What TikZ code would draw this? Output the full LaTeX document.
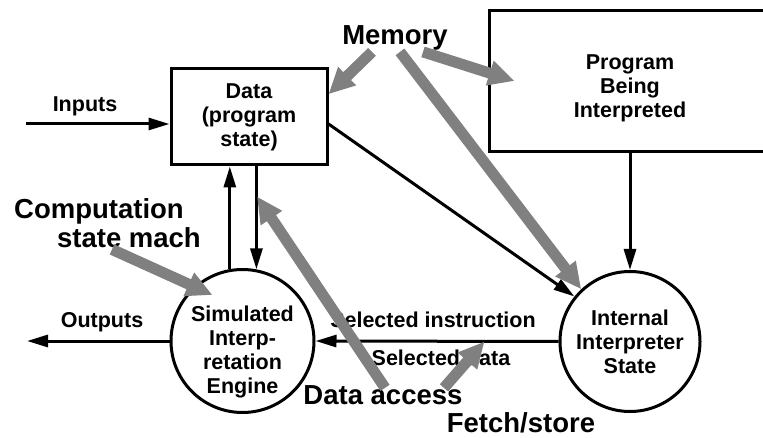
\documentclass[tikz,border=0pt]{standalone}
\usepackage{fontspec}
\setmainfont{Liberation Sans}
\usetikzlibrary{arrows.meta}
\newcommand{\txtsmall}{\fontsize{21.5}{24}\selectfont\bfseries}
\newcommand{\txtbig}{\fontsize{27.5}{30}\selectfont\bfseries}
\begin{document}
\begin{tikzpicture}[x=1pt,y=-1pt,
  procbox/.style={draw, line width=3pt, align=center, inner sep=0pt, font=\txtsmall},
  proccirc/.style={procbox, circle},
  lbl/.style={inner sep=1pt, anchor=base, font=\txtsmall},
  biglbl/.style={inner sep=1pt, anchor=base, font=\txtbig},
  flow/.style={line width=3pt, -{Triangle[length=21pt,width=12pt]}},
  fatflow/.style={draw=gray, line width=11pt, -{Triangle[length=26pt,width=24pt]}}]
\useasboundingbox (0,0) rectangle (763,438);
\node[procbox, minimum width=156pt, minimum height=96pt] (data) at (249,117) {Data\\(program\\state)};
\node[procbox, minimum width=282pt, minimum height=141pt,
  label={[font=\txtsmall, align=center, yshift=-7pt]center:{Program\\Being\\Interpreted}}] (prog) at (630,81) {};
\node[proccirc, minimum size=143pt,
  label={[font=\txtsmall, align=center, yshift=-11pt]center:{Simulated\\Interp-\\retation\\Engine}}] (sim) at (242.5,341) {};
\node[proccirc, minimum size=140pt] (ist) at (630,341.5) {Internal\\Interpreter\\State};
\coordinate (inbeg) at (26,124);
\coordinate (outend) at (27,341);
\node[lbl] (inp) at (85,112) {Inputs};
\node[lbl] (outp) at (102,327) {Outputs};
\node[lbl] (selins) at (433,327) {Selected instruction};
\node[lbl] (seldat) at (441,365) {Selected data};
\node[biglbl] (mem) at (395,45) {Memory};
\node[biglbl] (comp) at (99,219) {Computation};
\node[biglbl] (compb) at (129,248) {state mach};
\node[biglbl] (dacc) at (383,404) {Data access};
\node[biglbl] (fs) at (521,432) {Fetch/store};
\draw[flow] (inbeg) -- (inbeg -| data.west);
\draw[flow] (sim.west) -- (outend);
\draw[flow] (sim.100) -- (sim.100 |- data.south);
\draw[flow] (sim.79 |- data.south) -- (sim.79);
\draw[flow] (data.-5) -- (ist.141);
\draw[flow] (prog) -- (ist);
\draw[flow] (ist.west) -- (sim.east);
% memory and access paths
\draw[fatflow] ([xshift=-23pt]mem.south) -- (data.16);
\draw[fatflow] ([xshift=28pt]mem.south) -- ([xshift=27pt]prog.west);
\draw[fatflow] ([xshift=5pt]mem.south) -- (ist.133);
\draw[fatflow] ([xshift=-17pt]compb.south) -- ([shift={(-30pt,46pt)}]sim.center);
\draw[fatflow] ([shift={(2pt,-4pt)}]dacc.north) -- ([shift={(8pt,-30pt)}]data.south);
\draw[fatflow] ([shift={(-77pt,23pt)}]fs.north) -- ([xshift=-74pt]ist.west);
\end{tikzpicture}
\end{document}
